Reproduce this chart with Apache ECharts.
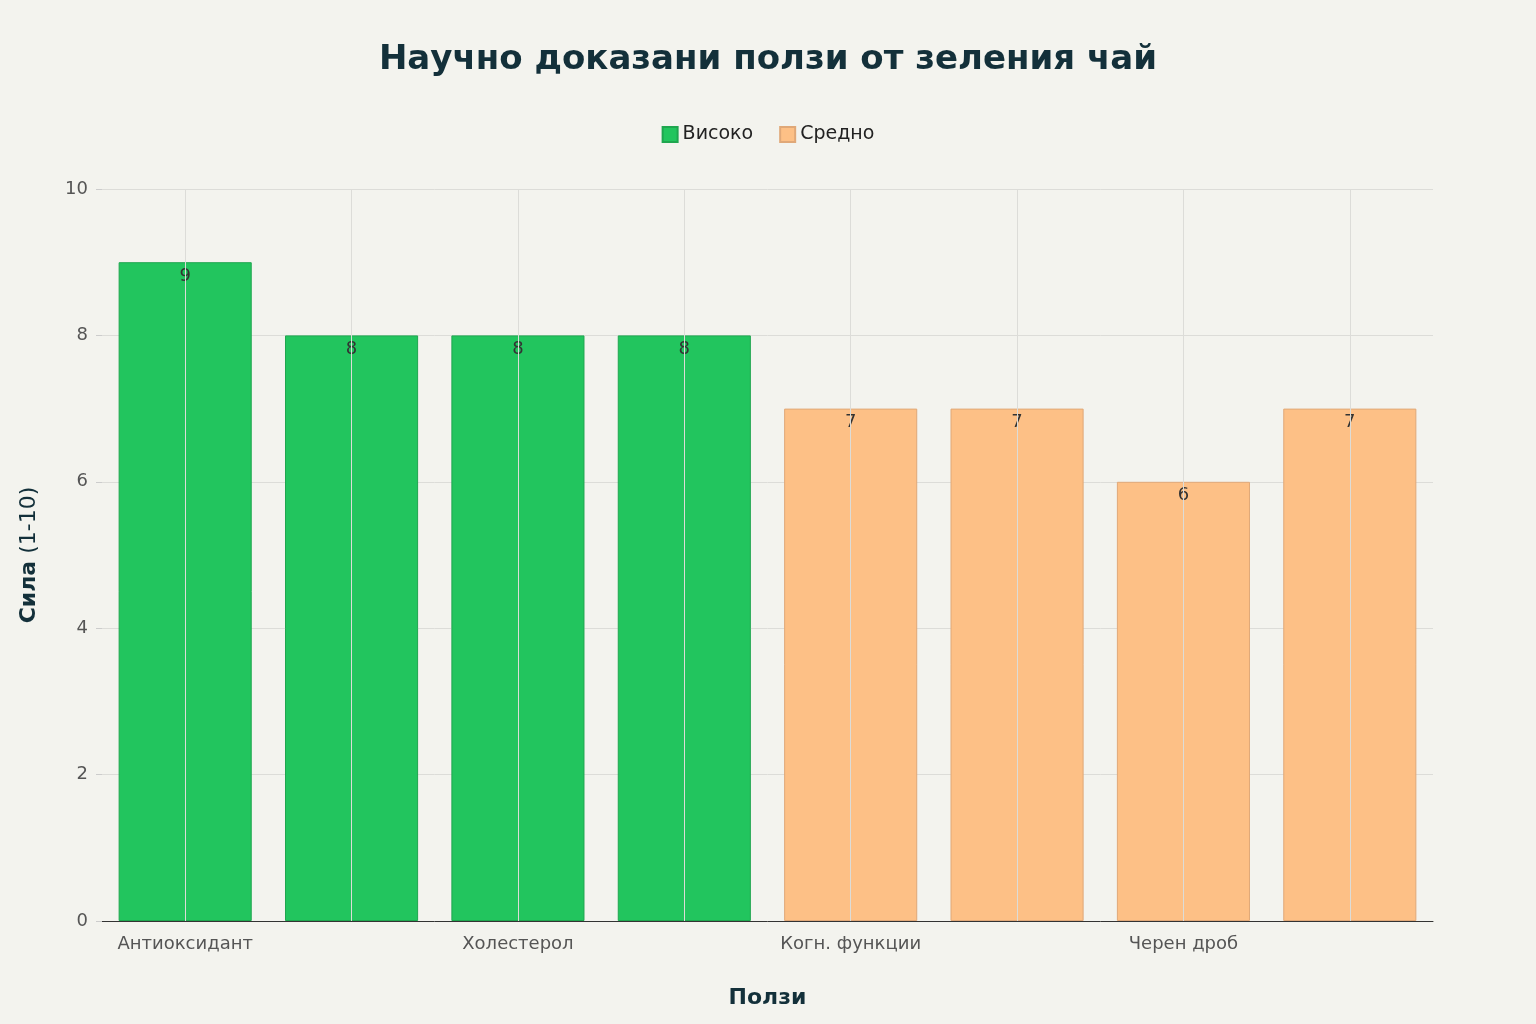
<!DOCTYPE html>
<html lang="bg">
<head>
  <meta charset="UTF-8">
  <title>Научно доказани ползи от зеления чай</title>
  <script src="https://cdn.jsdelivr.net/npm/echarts@6.0.0/dist/echarts.min.js"></script>
  <style>
    html, body { margin: 0; padding: 0; width: 100%; height: 100%; background: #f3f3ee; }
    #chart { width: 1536px; height: 1024px; }
  </style>
</head>
<body>
  <div id="chart"></div>
  <script>
    const categories = ['Антиоксидант', 'Противовъзпал', 'Холестерол', 'Сърд. здраве', 'Когн. функции', 'Кр. захар', 'Черен дроб', 'Противорак'];
    const highValues = [9, 8, 8, 8, '-', '-', '-', '-'];
    const mediumValues = ['-', '-', '-', '-', 7, 7, 6, 7];

    const font = 'DejaVu Sans, Noto Sans, sans-serif';
    const chart = echarts.init(document.getElementById('chart'));
    const label = { show: true, position: 'insideTop', offset: [0, 0], color: '#333', fontSize: 18, fontFamily: font };

    chart.setOption({
      backgroundColor: '#f3f3ee',
      textStyle: { fontFamily: font },
      title: {
        text: 'Научно доказани ползи от зеления чай',
        left: 'center', top: 38,
        textStyle: { fontSize: 34, fontWeight: 'bold', color: '#13303a', fontFamily: font }
      },
      legend: {
        top: 120, left: 'center', itemWidth: 15, itemHeight: 15, itemGap: 26,
        icon: 'rect',
        textStyle: { fontSize: 19, color: '#222', fontFamily: font }
      },
      grid: { left: 102, right: 103, top: 189, bottom: 103 },
      xAxis: {
        type: 'category',
        data: categories,
        name: 'Ползи', nameLocation: 'middle', nameGap: 66,
        nameTextStyle: { fontSize: 22, fontWeight: 'bold', color: '#13303a' },
        axisLine: { lineStyle: { color: '#333' } },
        axisTick: { alignWithLabel: true, length: 6, lineStyle: { color: '#ccc' } },
        axisLabel: { fontSize: 18, color: '#555', margin: 14 }
      },
      yAxis: {
        type: 'value', min: 0, max: 10, interval: 2,
        name: '{b|Сила} (1-10)', nameLocation: 'middle', nameGap: 62, nameRotate: 90,
        nameTextStyle: { fontSize: 22, color: '#13303a', rich: { b: { fontSize: 22, fontWeight: 'bold', color: '#13303a' } } },
        axisLine: { show: false },
        axisTick: { show: true, length: 6, lineStyle: { color: '#ccc' } },
        axisLabel: { fontSize: 18, color: '#555', margin: 14 },
        splitLine: { lineStyle: { color: '#dcdcd8' } }
      },
      series: [
        {
          name: 'Високо', type: 'bar', data: highValues, barWidth: '80%', barGap: '-100%', z: 3,
          itemStyle: { color: '#22c55e', borderColor: '#1fa64f', borderWidth: 1 },
          label: label
        },
        {
          name: 'Средно', type: 'bar', data: mediumValues, barWidth: '80%', z: 3,
          itemStyle: { color: '#fdc086', borderColor: '#e0a878', borderWidth: 1 },
          label: label
        },
        {
          type: 'line', data: [], z: 1, silent: true,
          markLine: {
            symbol: 'none', silent: true, label: { show: false },
            lineStyle: { color: '#dcdcd8', type: 'solid', width: 1 },
            data: categories.map(c => [{ coord: [c, 0] }, { coord: [c, 10] }])
          }
        }
      ]
    });
  </script>
</body>
</html>
